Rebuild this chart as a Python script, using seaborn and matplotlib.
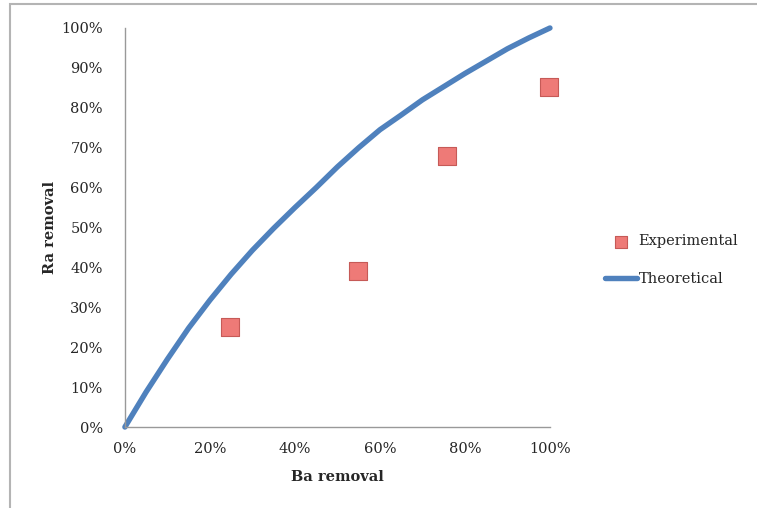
import seaborn as sns
import matplotlib.pyplot as plt
import pandas as pd
from matplotlib.patches import Rectangle
from matplotlib.ticker import PercentFormatter

# theoretical curve
theo_x = [0.0, 0.05, 0.1, 0.15, 0.2, 0.25, 0.3, 0.35, 0.4, 0.45, 0.5,
          0.55, 0.6, 0.65, 0.7, 0.75, 0.8, 0.85, 0.9, 0.95, 1.0]
theo_y = [0.0, 0.088, 0.17, 0.248, 0.318, 0.383, 0.443, 0.498, 0.55, 0.60, 0.652,
          0.70, 0.745, 0.782, 0.82, 0.853, 0.886, 0.917, 0.948, 0.975, 1.0]

# experimental points
exp_x = [0.247, 0.548, 0.758, 0.998]
exp_y = [0.25, 0.39, 0.68, 0.852]

sns.set_style('white')
plt.rcParams['font.family'] = ['DejaVu Serif']

fig = plt.figure(figsize=(7.57, 5.08), dpi=100)
ax = fig.add_axes([0.165, 0.1594, 0.5615, 0.7855])

theo = pd.DataFrame({'x': theo_x, 'y': theo_y})
exp = pd.DataFrame({'x': exp_x, 'y': exp_y})

sns.lineplot(data=theo, x='x', y='y', ax=ax, color='#4F81BD', linewidth=3.9,
             label='Theoretical', clip_on=False, solid_capstyle='round',
             solid_joinstyle='round')
sns.scatterplot(data=exp, x='x', y='y', ax=ax, marker='s', s=180, color='#EE7A77',
                edgecolor='#C65A57', linewidth=0.8, label='Experimental',
                clip_on=False, zorder=3)

ax.set_xlim(0, 1)
ax.set_ylim(0, 1)
ax.set_xticks([0, 0.2, 0.4, 0.6, 0.8, 1.0])
ax.set_yticks([i / 10 for i in range(11)])
ax.xaxis.set_major_formatter(PercentFormatter(1.0, decimals=0))
ax.yaxis.set_major_formatter(PercentFormatter(1.0, decimals=0))
ax.tick_params(axis='both', length=0, labelsize=10.5, colors='#262626')
ax.tick_params(axis='y', pad=16)
ax.tick_params(axis='x', pad=11)

for s in ['top', 'right']:
    ax.spines[s].set_visible(False)
for s in ['left', 'bottom']:
    ax.spines[s].set_color('#999999')
    ax.spines[s].set_linewidth(1.0)

ax.set_xlabel('Ba removal', fontsize=10.5, fontweight='bold', labelpad=10)
ax.set_ylabel('Ra removal', fontsize=10.5, fontweight='bold', labelpad=3)

handles, labels = ax.get_legend_handles_labels()
order = [labels.index('Experimental'), labels.index('Theoretical')]
ax.legend([handles[i] for i in order], [labels[i] for i in order],
          loc='center left', bbox_to_anchor=(0.782, 0.488), bbox_transform=fig.transFigure,
          frameon=False, fontsize=10.5, handlelength=2.2, handletextpad=0.1,
          labelspacing=1.6, markerscale=0.6)

fig.add_artist(Rectangle((10 / 757, -0.05), 1.0, 1.05 - 4 / 508, transform=fig.transFigure,
                         fill=False, edgecolor='#b4b4b4', linewidth=1.5))

fig.savefig('out.png', dpi=100)
